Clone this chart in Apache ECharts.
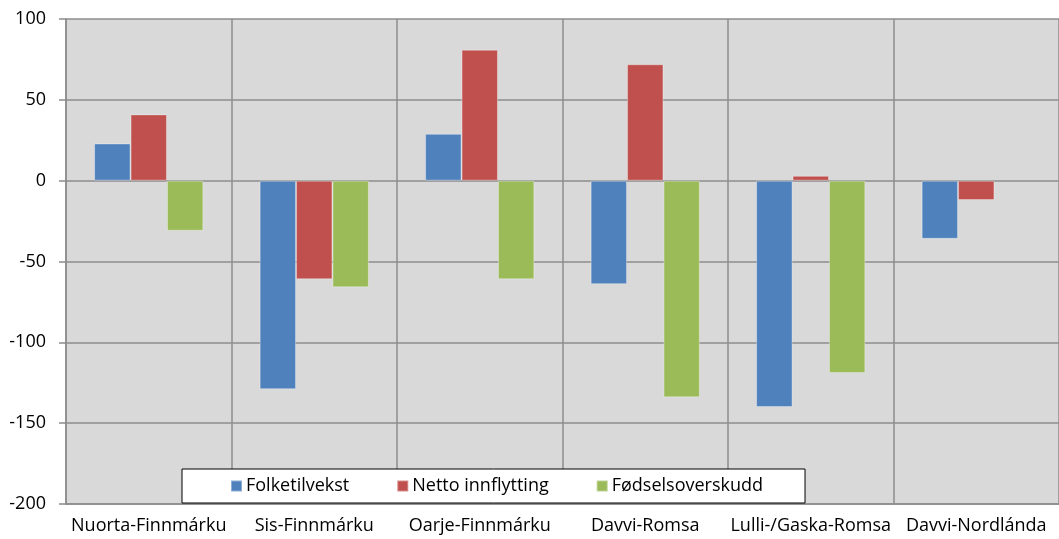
<!DOCTYPE html>
<html>
<head>
<meta charset="utf-8">
<script src="https://cdn.jsdelivr.net/npm/echarts@6/dist/echarts.min.js"></script>
<style>
html,body{margin:0;padding:0;background:#fff;}
#chart{width:1059px;height:539px;}
</style>
</head>
<body>
<div id="chart"></div>
<script>
const categories = ['Nuorta-Finnmárku', 'Sis-Finnmárku', 'Oarje-Finnmárku', 'Davvi-Romsa', 'Lulli-/Gaska-Romsa', 'Davvi-Nordlánda'];
const folketilvekst = [23, -129, 29, -64, -140, -36];
const nettoInnflytting = [41, -61, 81, 72, 3, -12];
const fodselsoverskudd = [-31, -66, -61, -134, -119, null];
const seriesNames = ['Folketilvekst', 'Netto innflytting', 'Fødselsoverskudd'];
const colors = ['#4f81bd', '#c0504d', '#9bbb59'];

const font = '"Open Sans", Lato, sans-serif';
const chart = echarts.init(document.getElementById('chart'));
const mk = (name, data, i) => ({
  name: name,
  type: 'bar',
  data: data,
  barGap: '0%',
  barCategoryGap: '34%',
  itemStyle: { color: colors[i], borderColor: 'rgba(255,255,255,0.35)', borderWidth: 1 }
});
chart.setOption({
  animation: false,
  textStyle: { fontFamily: font },
  grid: { left: 66, right: 0, top: 19, bottom: 35, show: true, backgroundColor: '#d9d9d9', borderWidth: 0 },
  legend: {
    left: 182, top: 469,
    data: seriesNames,
    backgroundColor: '#ffffff',
    borderColor: '#000000',
    borderWidth: 1,
    padding: [8, 42, 8, 48],
    itemGap: 47,
    itemWidth: 11, itemHeight: 11,
    icon: 'rect',
    textStyle: { fontSize: 18, color: '#000', fontFamily: font, padding: [0, 0, 0, -1] }
  },
  xAxis: {
    type: 'category',
    data: categories,
    axisLine: { onZero: false, lineStyle: { color: '#8c8c8c', width: 1.5 } },
    axisTick: { show: false },
    axisLabel: { fontSize: 18, color: '#000', margin: 13, interval: 0, fontFamily: font },
    splitLine: { show: true, interval: 0, lineStyle: { color: '#8c8c8c', width: 1.5 } }
  },
  yAxis: {
    type: 'value',
    min: -200, max: 100, interval: 50,
    axisLine: { show: true, lineStyle: { color: '#8c8c8c', width: 1.5 } },
    axisTick: { show: true, length: 7, lineStyle: { color: '#8c8c8c', width: 1.5 } },
    axisLabel: { fontSize: 18, color: '#000', margin: 20, fontFamily: font },
    splitLine: { show: true, lineStyle: { color: '#8c8c8c', width: 1.5 } }
  },
  series: [
    mk(seriesNames[0], folketilvekst, 0),
    mk(seriesNames[1], nettoInnflytting, 1),
    mk(seriesNames[2], fodselsoverskudd, 2)
  ]
});
</script>
</body>
</html>
